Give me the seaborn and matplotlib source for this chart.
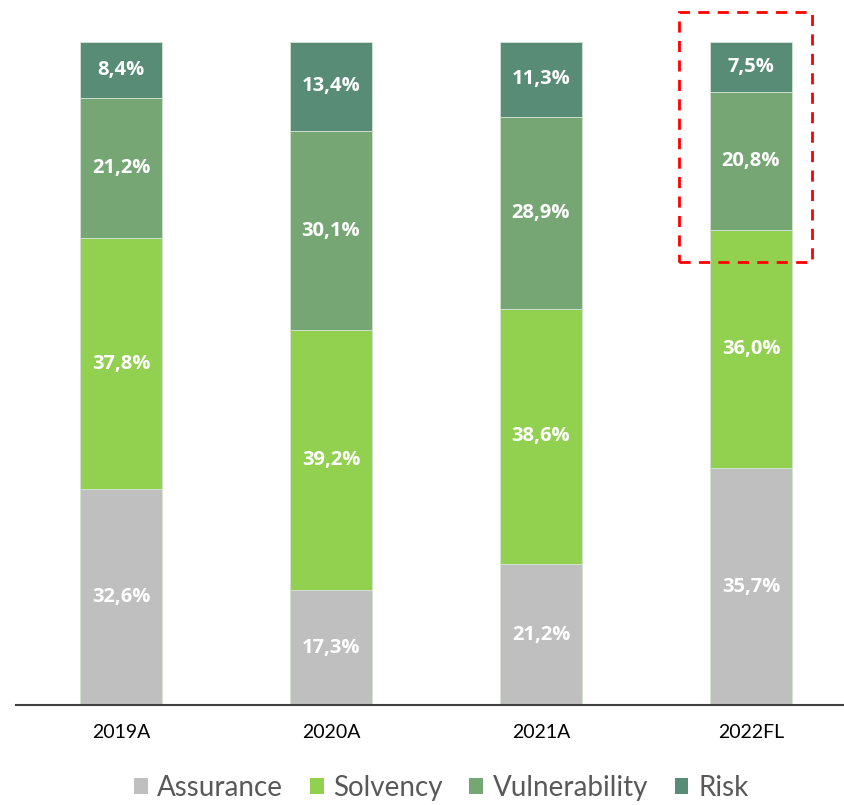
import numpy as np
import pandas as pd
import seaborn as sns
import matplotlib
matplotlib.use("Agg")
import matplotlib.pyplot as plt
from matplotlib.patches import Rectangle, Patch

years = ["2019A", "2020A", "2021A", "2022FL"]
segments = ["Assurance", "Solvency", "Vulnerability", "Risk"]
assurance = [32.6, 17.3, 21.2, 35.7]
solvency = [37.8, 39.2, 38.6, 36.0]
vulnerability = [21.2, 30.1, 28.9, 20.8]
risk = [8.4, 13.4, 11.3, 7.5]
colors = ["#BFBFBF", "#92D050", "#77A675", "#588C77"]

sns.set_theme(style="white")
plt.rcParams["font.family"] = ["Lato", "DejaVu Sans"]

fig = plt.figure(figsize=(8.45, 8.05), dpi=100)
W, H = 845, 805
x0, x1 = 16, 845
ybase, ytop = 705, 42
ax = fig.add_axes([x0 / W, (H - ybase) / H, (x1 - x0) / W, (ybase - ytop) / H])

series = [assurance, solvency, vulnerability, risk]
bottom = np.zeros(len(years))
for name, vals, col in zip(segments, series, colors):
    df = pd.DataFrame({"year": years, "value": vals})
    sns.barplot(data=df, x="year", y="value", order=years, color=col,
                width=0.395, bottom=bottom, ax=ax, edgecolor="#d5e3d5",
                linewidth=0.6, saturation=1, errorbar=None)
    for i, v in enumerate(vals):
        ax.text(i, bottom[i] + v / 2, f"{v:.1f}%".replace(".", ","),
                ha="center", va="center", color="white", fontsize=14.5,
                fontweight="bold", family=["Open Sans", "DejaVu Sans"])
    bottom = bottom + np.array(vals)

ax.set_xlim(-0.5, -0.5 + (x1 - x0) / 210)
ax.set_ylim(0, 100)
ax.set_xlabel("")
ax.set_ylabel("")
ax.set_yticks([])
for s in ["top", "right", "left"]:
    ax.spines[s].set_visible(False)
ax.spines["bottom"].set_color("#404040")
ax.spines["bottom"].set_linewidth(1.5)
ax.tick_params(axis="x", length=0, pad=14, labelsize=14, labelcolor="#000000")

# dashed highlight box
rect = Rectangle((2.657, 66.8), 0.633, 37.7, fill=False, edgecolor="#FF0000",
                 linestyle=(0, (4, 3)), linewidth=2, clip_on=False)
ax.add_patch(rect)

handles = [Patch(facecolor=c, edgecolor="none") for c in colors]
leg = fig.legend(handles, segments, loc="center", bbox_to_anchor=(0.522, (H - 788) / H),
                 ncol=4, frameon=False, fontsize=20, handlelength=0.5,
                 handleheight=0.5, handletextpad=0.35, columnspacing=0.95)
for t in leg.get_texts():
    t.set_color("#595959")

fig.savefig("out.png", dpi=100)
